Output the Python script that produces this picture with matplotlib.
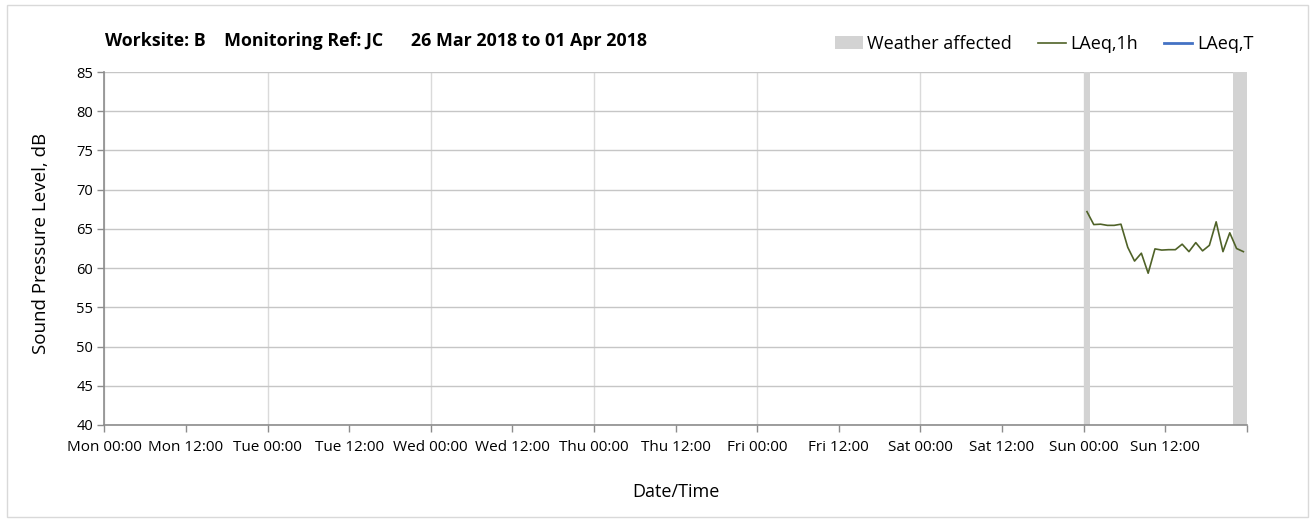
import matplotlib
matplotlib.use("Agg")
import matplotlib.pyplot as plt
import matplotlib.dates as mdates
from matplotlib.patches import Patch, Rectangle
from matplotlib.lines import Line2D
from matplotlib.ticker import FuncFormatter
import numpy as np
import pandas as pd

plt.rcParams['font.family'] = ['Open Sans', 'DejaVu Sans']

# ---- data ----
title = "Worksite: B    Monitoring Ref: JC      26 Mar 2018 to 01 Apr 2018"
period_start = "2018-03-26 00:00"
period_end = "2018-04-02 00:00"
laeq_1h_start = "2018-04-01 00:30"
laeq_1h = [67.2, 65.55, 65.6, 65.45, 65.45, 65.6, 62.65, 60.9, 61.9, 59.35,
           62.45, 62.3, 62.35, 62.35, 63.05, 62.1, 63.25, 62.2, 62.9, 65.9,
           62.1, 64.5, 62.5, 62.1]
laeq_T = []
weather_spans = [("2018-04-01 00:00", "2018-04-01 01:00"),
                 ("2018-04-01 22:00", "2018-04-02 00:00")]
y_min, y_max, y_step = 40, 85, 5

times = pd.date_range(laeq_1h_start, periods=len(laeq_1h), freq="h")
t_start, t_end = pd.Timestamp(period_start), pd.Timestamp(period_end)

fig = plt.figure(figsize=(13.11, 5.23), dpi=100)
ax = fig.add_axes([0.0796, 0.1874, 0.9510 - 0.0796, 0.8623 - 0.1874])

# figure border
fig.patches.append(Rectangle((0.005, 0.012), 0.993, 0.978, transform=fig.transFigure,
                             fill=False, edgecolor='#d9d9d9', linewidth=1.0))

for s, e in weather_spans:
    ax.axvspan(pd.Timestamp(s), pd.Timestamp(e), color='#d3d3d3', lw=0, zorder=1)

ax.plot(times, laeq_1h, color='#4f6228', lw=1.2, zorder=3)
if laeq_T:
    ax.plot(times[:len(laeq_T)], laeq_T, color='#4472c4', lw=2, zorder=3)

ax.set_xlim(t_start, t_end)
ax.set_ylim(y_min, y_max)
ax.set_yticks(np.arange(y_min, y_max + 1, y_step))

end_num = mdates.date2num(t_end)


def fmt_func(x, pos=None):
    if abs(x - end_num) < 1e-6:
        return ''
    return mdates.num2date(x).strftime('%a %H:%M')


ax.xaxis.set_major_locator(mdates.DayLocator())
ax.xaxis.set_minor_locator(mdates.HourLocator(byhour=[12]))
ax.xaxis.set_major_formatter(FuncFormatter(fmt_func))
ax.xaxis.set_minor_formatter(FuncFormatter(fmt_func))

ax.grid(axis='y', which='major', color='#c6c6c6', lw=1.0, zorder=0)
ax.grid(axis='x', which='major', color='#dadada', lw=1.0, zorder=0)
ax.set_axisbelow(True)

for sp in ['top', 'right']:
    ax.spines[sp].set_visible(False)
for sp in ['left', 'bottom']:
    ax.spines[sp].set_color('#8c8c8c')
    ax.spines[sp].set_linewidth(1.2)
    ax.spines[sp].set_zorder(4)

ax.tick_params(axis='both', which='both', colors='#8c8c8c', labelcolor='black',
               labelsize=10.5, length=5, width=1)
ax.tick_params(axis='x', which='both', labelsize=11, pad=6)
ax.tick_params(axis='y', pad=3)

ax.set_ylabel("Sound Pressure Level, dB", fontsize=13.5)
ax.yaxis.set_label_coords(-0.048, 0.515)
ax.set_xlabel("Date/Time", fontsize=13, labelpad=20)

fig.text(0.080, 0.921, title, fontsize=12.8, fontweight='bold', ha='left', va='center')

handles = [Patch(facecolor='#d3d3d3', edgecolor='none', label='Weather affected'),
           Line2D([], [], color='#4f6228', lw=1.2, label='LAeq,1h'),
           Line2D([], [], color='#4472c4', lw=2, label='LAeq,T')]
fig.legend(handles=handles, loc='center right', bbox_to_anchor=(0.956, 0.916), ncol=3,
           frameon=False, fontsize=13, handlelength=1.55, handletextpad=0.25,
           columnspacing=1.45, handleheight=0.7, borderaxespad=0, borderpad=0)

fig.savefig("out.png", dpi=100)
